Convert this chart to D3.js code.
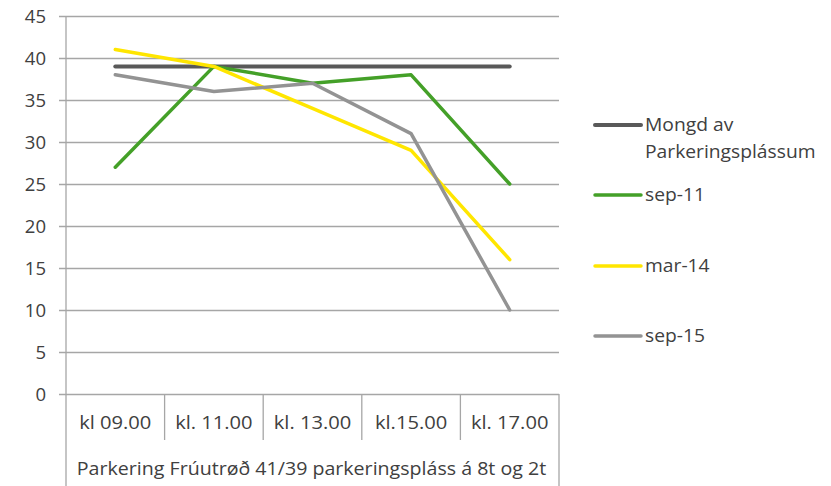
<!DOCTYPE html>
<html><head><meta charset="utf-8">
<script src="https://cdn.jsdelivr.net/npm/d3@7"></script>
<style>body{margin:0;background:#fff}svg{display:block}text{font-family:"Open Sans","Noto Sans",sans-serif;fill:#404040}</style>
</head><body>
<svg id="c" width="831" height="486"></svg>
<script>
const categories = ["kl 09.00","kl. 11.00","kl. 13.00","kl.15.00","kl. 17.00"];
const groupLabel = "Parkering Frúutrøð 41/39 parkeringspláss á 8t og 2t";
const seriesNames = ["Mongd av Parkeringsplássum","sep-11","mar-14","sep-15"];
const mongd = [39,39,39,39,39];
const sep11 = [27,39,37,38,25];
const mar14 = [41,39,34,29,16];
const sep15 = [38,36,37,31,10];
const yTicks = [0,5,10,15,20,25,30,35,40,45];

const series = [
  {name:seriesNames[0], values:mongd, color:"#595959", w:4},
  {name:seriesNames[1], values:sep11, color:"#44a028", w:3.5},
  {name:seriesNames[2], values:mar14, color:"#ffe600", w:3.5},
  {name:seriesNames[3], values:sep15, color:"#939393", w:3.5}
];

const svg = d3.select("#c");
const L=66, R=559, T=16, B=394;
const FS=17.5, SX=1.14;
const x = d3.scaleBand().domain(categories).range([L,R]);
const y = d3.scaleLinear().domain([0,45]).range([B,T]);
const grid="#a6a6a6";
function widen(sel, k){ sel.each(function(){ const n=this.getComputedTextLength(); d3.select(this).attr("textLength",n*(k||SX)).attr("lengthAdjust","spacingAndGlyphs"); }); }

// gridlines
const yAxis = d3.axisLeft(y).tickValues(yTicks).tickSize(-(R-L)).tickPadding(20);
const ga = svg.append("g").attr("transform",`translate(${L},0)`).call(yAxis);
ga.select(".domain").remove();
ga.selectAll(".tick line").attr("stroke",grid).attr("stroke-width",1.3).attr("x1",-7);
ga.selectAll(".tick text").attr("font-size",FS).style("fill","#404040").attr("font-family","Open Sans").attr("dy","0.36em");
widen(ga.selectAll(".tick text"),1.06);

// y axis line
svg.append("line").attr("x1",L).attr("x2",L).attr("y1",T).attr("y2",486).attr("stroke",grid).attr("stroke-width",1.3);
// category box
svg.append("line").attr("x1",R).attr("x2",R).attr("y1",B).attr("y2",486).attr("stroke",grid).attr("stroke-width",1.3);
categories.forEach((c,i)=>{
  if(i>0){
    const xx = x(c);
    svg.append("line").attr("x1",xx).attr("x2",xx).attr("y1",B).attr("y2",440).attr("stroke",grid).attr("stroke-width",1.3);
  }
  const t = svg.append("text").attr("x",x(c)+x.bandwidth()/2).attr("y",429).attr("text-anchor","middle").attr("font-size",FS).text(c);
  widen(t,1.15);
});
const g = svg.append("text").attr("x",(L+R)/2-1).attr("y",475).attr("text-anchor","middle").attr("font-size",FS).text(groupLabel);
widen(g,1.12);

// lines
const line = d3.line().x((d,i)=>x(categories[i])+x.bandwidth()/2).y(d=>y(d));
series.forEach(s=>{
  svg.append("path").datum(s.values).attr("d",line).attr("fill","none")
    .attr("stroke",s.color).attr("stroke-width",s.w).attr("stroke-linejoin","round").attr("stroke-linecap","round");
});

// legend
const ly=[125,195,266,336];
series.forEach((s,i)=>{
  svg.append("line").attr("x1",595).attr("x2",641).attr("y1",ly[i]).attr("y2",ly[i]).attr("stroke",s.color).attr("stroke-width",s.w).attr("stroke-linecap","round");
  const t = svg.append("text").attr("x",645).attr("y",ly[i]+6).attr("font-size",FS);
  if(i===0){
    t.append("tspan").attr("x",645).text("Mongd av");
    const t2 = svg.append("text").attr("x",645).attr("y",ly[i]+33).attr("font-size",FS).text("Parkeringsplássum");
    widen(t2,1.1);
  } else t.text(s.name);
  widen(t,1.1);
});
</script>
</body></html>
